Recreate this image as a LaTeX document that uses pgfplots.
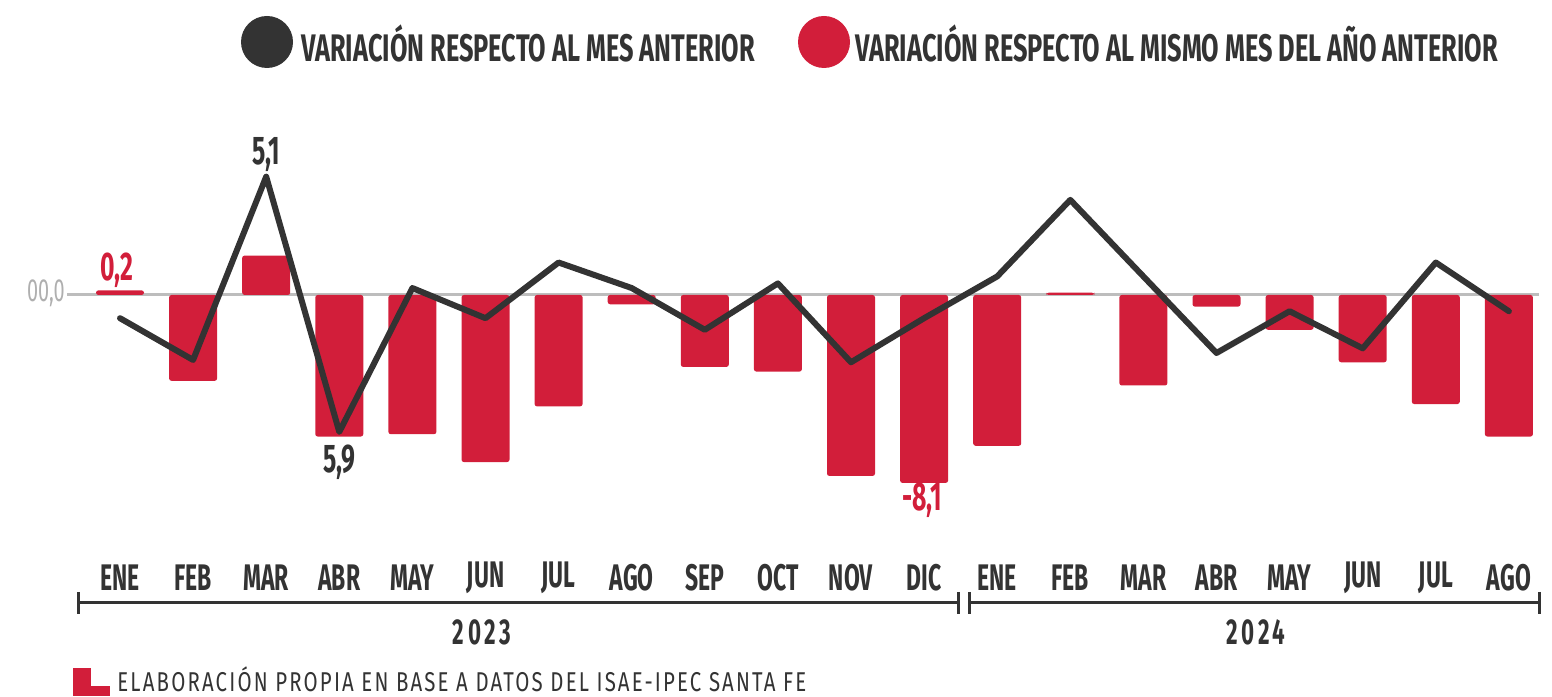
\documentclass[border=0pt]{standalone}
\usepackage{fontspec}
\setmainfont{Fira Sans}[FakeStretch=0.62]
\newfontfamily\legfont{Fira Sans}[FakeStretch=0.66]
\newfontfamily\notefont{Fira Sans}[FakeStretch=0.75]
\usepackage{pgfplots}
\pgfplotsset{compat=1.18}
\definecolor{barred}{HTML}{D21E3A}
\definecolor{dark}{HTML}{333333}
\definecolor{zgray}{HTML}{BDBDBD}
\definecolor{lgray}{HTML}{AFAFAF}
\begin{document}
\begin{tikzpicture}
\path[use as bounding box] (0,0) rectangle (776pt,348pt);
\begin{axis}[at={(30pt,68pt)}, anchor=south west, scale only axis,
  width=742.5pt, height=215pt,
  xmin=-0.8208, xmax=19.494, ymin=-11.422, ymax=7.112, clip=false,
  axis line style={draw=none}, ytick=\empty, xtick={0,...,19}, major tick length=0pt,
  xticklabels={ENE,FEB,MAR,ABR,MAY,JUN,JUL,AGO,SEP,OCT,NOV,DIC,ENE,FEB,MAR,ABR,MAY,JUN,JUL,AGO},
  xticklabel style={anchor=center, yshift=-9pt, font=\fontsize{18.5}{20}\selectfont\bfseries, text=dark},
]
\draw[zgray, line width=1.5pt] (axis cs:-0.725,0) -- (axis cs:19.412,0);
\addplot[ybar, bar width=24pt, fill=barred, draw=none, rounded corners=1.2pt] coordinates {
(0,0.2) (1,-3.7) (2,1.7) (3,-6.1) (4,-6.0) (5,-7.2) (6,-4.8) (7,-0.4) (8,-3.1) (9,-3.3)
(10,-7.8) (11,-8.1) (12,-6.5) (13,0.1) (14,-3.9) (15,-0.5) (16,-1.5) (17,-2.9) (18,-4.7) (19,-6.1)};
\addplot[dark, line width=3pt, line join=round, line cap=round, mark=none] coordinates {
(0,-1.0) (1,-2.8) (2,5.1) (3,-5.9) (4,0.3) (5,-1.0) (6,1.4) (7,0.3) (8,-1.5) (9,0.5)
(10,-2.9) (11,-1.0) (12,0.8) (13,4.1) (14,0.8) (15,-2.5) (16,-0.7) (17,-2.3) (18,1.4) (19,-0.7)};
\node[text=dark, font=\fontsize{20}{21}\selectfont\bfseries] at (axis cs:2,6.05) {5,1};
\node[text=dark, font=\fontsize{20}{21}\selectfont\bfseries] at (axis cs:3,-7.2) {5,9};
\node[text=barred, font=\fontsize{20}{21}\selectfont\bfseries] at (axis cs:-0.04,1.08) {0,2};
\node[text=barred, font=\fontsize{20}{21}\selectfont\bfseries] at (axis cs:10.97,-8.85) {-8,1};
\end{axis}
\begin{scope}[x=0.5pt, y=-0.5pt, shift={(0,348pt)}]
  % zero label
  \node[anchor=east, inner sep=0pt, text=lgray, font=\fontsize{16}{17}\selectfont] at (65,293) {00,0};
  % legend
  \fill[dark] (267,42) circle[radius=13pt];
  \node[anchor=west, inner sep=0pt, text=dark, font=\legfont\fontsize{19.2}{20}\selectfont\bfseries] at (301,43) {VARIACIÓN RESPECTO AL MES ANTERIOR};
  \fill[barred] (824,42) circle[radius=13pt];
  \node[anchor=west, inner sep=0pt, text=dark, font=\legfont\fontsize{19.2}{20}\selectfont\bfseries] at (855,43) {VARIACIÓN RESPECTO AL MISMO MES DEL AÑO ANTERIOR};
  % year brackets
  \draw[dark, line width=1.5pt] (78,603) -- (958,603);
  \draw[dark, line width=1.5pt] (78,592) -- (78,614);
  \draw[dark, line width=1.5pt] (958,592) -- (958,614);
  \draw[dark, line width=1.5pt] (969,603) -- (1539,603);
  \draw[dark, line width=1.5pt] (969,592) -- (969,614);
  \draw[dark, line width=1.5pt] (1539,592) -- (1539,614);
  \node[text=dark, font=\fontsize{18}{19}\selectfont\bfseries\addfontfeature{LetterSpace=10}] at (482,632) {2023};
  \node[text=dark, font=\fontsize{18}{19}\selectfont\bfseries\addfontfeature{LetterSpace=10}] at (1256,632) {2024};
  % footnote
  \fill[barred] (73,668) rectangle (91,696);
  \fill[barred] (73,686) rectangle (110,696);
  \node[anchor=west, inner sep=0pt, text=dark, font=\notefont\fontsize{13.6}{15}\selectfont\addfontfeature{LetterSpace=8}] at (117,679) {ELABORACIÓN PROPIA EN BASE A DATOS DEL ISAE-IPEC SANTA FE};
\end{scope}
\end{tikzpicture}
\end{document}
